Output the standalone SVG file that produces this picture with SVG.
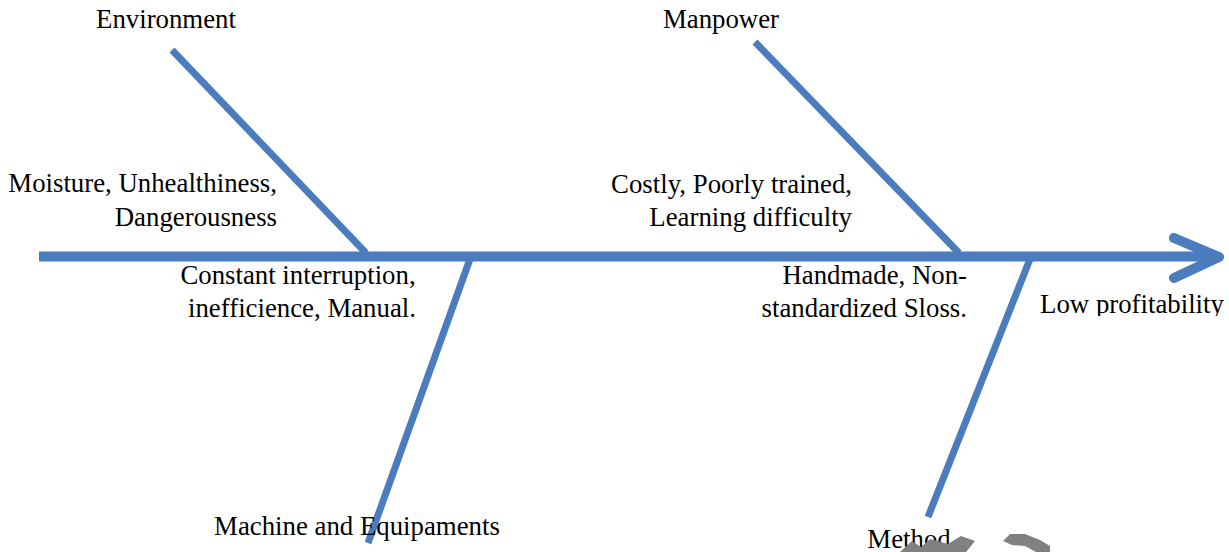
<svg xmlns="http://www.w3.org/2000/svg" width="1229" height="552" viewBox="0 0 1229 552">
<style>
.t{font-family:"Liberation Serif","Times New Roman",serif;font-size:26.8px;fill:#000}
.b{stroke:#4A7CBE;fill:none}
</style>
<defs>
<clipPath id="clipLow"><rect x="1030" y="280" width="199" height="36"/></clipPath>
</defs>
<rect width="1229" height="552" fill="#fff"/>
<g id="connectors">
<line class="b" x1="39" y1="256.5" x2="1214" y2="256.5" stroke-width="10"/>
<polyline class="b" points="1174,238 1219,257 1174,278" stroke-width="10" stroke-linecap="round" stroke-linejoin="round"/>
<line class="b" x1="172" y1="50" x2="366" y2="253" stroke-width="7"/>
<line class="b" x1="755" y1="42" x2="959" y2="253" stroke-width="7"/>
<line class="b" x1="470" y1="259" x2="368" y2="543" stroke-width="7"/>
<line class="b" x1="1030" y1="259" x2="928" y2="517" stroke-width="7"/>
</g>
<g id="node-environment"><text class="t" x="166" y="28" text-anchor="middle">Environment</text></g>
<g id="node-manpower"><text class="t" x="721" y="28" text-anchor="middle">Manpower</text></g>
<g id="node-env-causes"><text class="t" x="277" y="192" text-anchor="end">Moisture, Unhealthiness,</text><text class="t" x="277" y="226" text-anchor="end">Dangerousness</text></g>
<g id="node-man-causes"><text class="t" x="852" y="193" text-anchor="end">Costly, Poorly trained,</text><text class="t" x="852" y="226" text-anchor="end">Learning difficulty</text></g>
<g id="node-mach-causes"><text class="t" x="298" y="284" text-anchor="middle">Constant interruption,</text><text class="t" x="302" y="317" text-anchor="middle">inefficience, Manual.</text></g>
<g id="node-method-causes"><text class="t" x="967" y="284" text-anchor="end">Handmade, Non-</text><text class="t" x="967" y="317" text-anchor="end">standardized Sloss.</text></g>
<g id="node-effect"><text class="t" x="1132" y="313" text-anchor="middle" clip-path="url(#clipLow)">Low profitability</text></g>
<g id="node-machine"><text class="t" x="357" y="535" text-anchor="middle">Machine and Equipaments</text></g>
<g id="node-method"><text class="t" x="909" y="548" text-anchor="middle">Method</text></g>
<g id="watermark" fill="#808080">
<polygon points="900,552 912,541 921,547 930,539 948,544 961,536 975,541 966,552"/>
<polygon points="1003,541 1010,534 1025,534 1040,540 1050,546 1050,552 1036,552 1025,546 1012,545"/>
</g>
</svg>
